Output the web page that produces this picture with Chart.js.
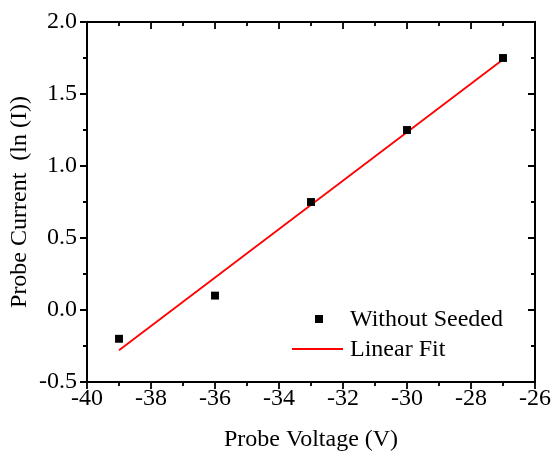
<!DOCTYPE html>
<html>
<head>
<meta charset="utf-8">
<script src="https://cdn.jsdelivr.net/npm/chart.js@4/dist/chart.umd.min.js"></script>
<style>
  html, body { margin: 0; padding: 0; background: #fff; }
  #wrap { width: 551px; height: 456px; position: relative; }
</style>
</head>
<body>
<div id="wrap"><canvas id="c" width="551" height="456"></canvas></div>
<script>
// ---- data ----
const voltage = [-39, -36, -33, -30, -27];
const lnCurrent = [-0.2, 0.1, 0.75, 1.25, 1.75];
const fitVoltage = [-39, -27];
const fitCurrent = [-0.28, 1.74];
const xTickValues = [-40, -38, -36, -34, -32, -30, -28, -26];
const xMinorValues = [-39, -37, -35, -33, -31, -29, -27];
const yTickValues = [-0.5, 0.0, 0.5, 1.0, 1.5, 2.0];
const yMinorValues = [-0.25, 0.25, 0.75, 1.25, 1.75];
const seriesName = 'Without Seeded';
const fitName = 'Linear Fit';
const xTitle = 'Probe Voltage (V)';
const yTitle = 'Probe Current  (ln (I))';

const FONT = '"Liberation Serif", "Times New Roman", serif';
const FS = 24;

const framePlugin = {
  id: 'frame',
  afterDraw(chart) {
    const ctx = chart.ctx;
    const a = chart.chartArea;
    const xs = chart.scales.x, ys = chart.scales.y;
    ctx.save();
    ctx.strokeStyle = '#000';
    ctx.lineWidth = 2;
    ctx.strokeRect(a.left, a.top, a.right - a.left, a.bottom - a.top);
    const MAJ = 7, MIN = 4;
    ctx.lineWidth = 1.8;
    ctx.beginPath();
    const xt = (vals, len) => vals.forEach(v => {
      const p = Math.round(xs.getPixelForValue(v));
      ctx.moveTo(p, a.bottom); ctx.lineTo(p, a.bottom + len);
      ctx.moveTo(p, a.top); ctx.lineTo(p, a.top + len);
    });
    const yt = (vals, len) => vals.forEach(v => {
      const p = Math.round(ys.getPixelForValue(v));
      ctx.moveTo(a.left, p); ctx.lineTo(a.left - len, p);
      ctx.moveTo(a.right, p); ctx.lineTo(a.right - len, p);
    });
    xt(xTickValues, MAJ); xt(xMinorValues, MIN);
    yt(yTickValues, MAJ); yt(yMinorValues, MIN);
    ctx.stroke();

    // legend
    const ds = chart.data.datasets;
    const lx = a.left + 232, ly1 = a.top + 297, ly2 = a.top + 327;
    ctx.fillStyle = ds[0].backgroundColor;
    ctx.fillRect(lx - 4, ly1 - 4, 8, 8);
    ctx.strokeStyle = ds[1].borderColor;
    ctx.lineWidth = 1.8;
    ctx.beginPath();
    ctx.moveTo(a.left + 205, ly2); ctx.lineTo(a.left + 256, ly2);
    ctx.stroke();
    ctx.fillStyle = '#000';
    ctx.font = FS + 'px ' + FONT;
    ctx.textBaseline = 'middle';
    ctx.textAlign = 'left';
    ctx.fillText(ds[0].label, a.left + 263, ly1 + 1);
    ctx.fillText(ds[1].label, a.left + 263, ly2 + 1);
    ctx.restore();
  }
};

new Chart(document.getElementById('c'), {
  type: 'scatter',
  data: {
    datasets: [
      {
        label: seriesName,
        data: voltage.map((v, i) => ({x: v, y: lnCurrent[i]})),
        pointStyle: 'rect',
        pointRadius: 5.6,
        pointHoverRadius: 5.6,
        backgroundColor: '#000',
        borderColor: '#000',
        borderWidth: 0,
        showLine: false,
        order: 1
      },
      {
        label: fitName,
        data: fitVoltage.map((v, i) => ({x: v, y: fitCurrent[i]})),
        showLine: true,
        borderColor: '#ff0000',
        backgroundColor: '#ff0000',
        borderWidth: 1.8,
        pointRadius: 0,
        pointHoverRadius: 0,
        order: 2
      }
    ]
  },
  options: {
    responsive: false,
    animation: false,
    events: [],
    layout: { padding: { left: 0, right: 16, top: 22, bottom: 0 } },
    plugins: { legend: { display: false }, tooltip: { enabled: false } },
    scales: {
      x: {
        type: 'linear',
        min: -40, max: -26,
        afterBuildTicks(s) { s.ticks = xTickValues.map(v => ({value: v})); },
        afterFit(s) { s.height = 74; s.paddingLeft = 0; s.paddingRight = 0; },
        grid: { display: false, drawTicks: false },
        border: { display: false },
        ticks: {
          padding: 2,
          color: '#000',
          font: { family: FONT, size: FS },
          maxRotation: 0,
          callback: v => String(v)
        },
        title: {
          display: true, text: xTitle, color: '#000',
          font: { family: FONT, size: FS },
          padding: { top: 0, bottom: 2 }
        }
      },
      y: {
        type: 'linear',
        min: -0.5, max: 2.0,
        afterBuildTicks(s) { s.ticks = yTickValues.map(v => ({value: v})); },
        afterFit(s) { s.width = 87; s.paddingTop = 0; s.paddingBottom = 0; },
        grid: { display: false, drawTicks: false },
        border: { display: false },
        ticks: {
          padding: 10,
          color: '#000',
          font: { family: FONT, size: FS },
          callback: v => Number(v).toFixed(1)
        },
        title: {
          display: true, text: yTitle, color: '#000',
          font: { family: FONT, size: FS },
          padding: { top: 5, bottom: 0 }
        }
      }
    }
  },
  plugins: [framePlugin]
});
</script>
</body>
</html>
